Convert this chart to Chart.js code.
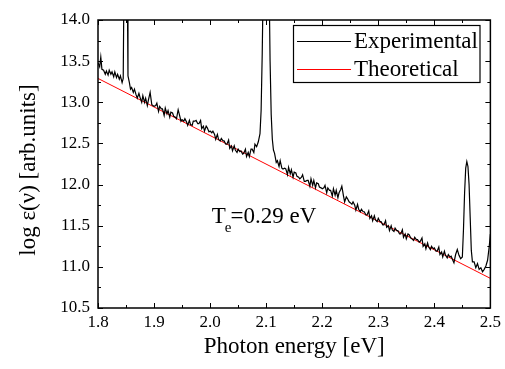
<!DOCTYPE html>
<html>
<head>
<meta charset="utf-8">
<script src="https://cdn.jsdelivr.net/npm/chart.js@4/dist/chart.umd.min.js"></script>
<style>
  html, body { margin: 0; padding: 0; background: #fff; }
  canvas { display: block; }
</style>
</head>
<body>
<canvas id="c" width="505" height="369"></canvas>
<script>
// ---- data ----
const expX = [1.800,1.803,1.805,1.807,1.810,1.813,1.815,1.818,1.820,1.823,1.825,1.828,1.830,1.833,1.835,1.838,1.840,1.843,1.845,1.8465,1.849,1.852,1.8535,1.856,1.858,1.860,1.863,1.865,1.868,1.870,1.873,1.875,1.878,1.880,1.883,1.885,1.888,1.890,1.893,1.896,1.898,1.900,1.903,1.905,1.908,1.910,1.913,1.915,1.918,1.920,1.923,1.925,1.928,1.930,1.933,1.935,1.938,1.940,1.943,1.946,1.948,1.950,1.953,1.955,1.958,1.960,1.963,1.965,1.968,1.970,1.973,1.975,1.978,1.980,1.983,1.985,1.988,1.990,1.993,1.995,1.998,2.000,2.003,2.005,2.008,2.010,2.013,2.015,2.018,2.020,2.023,2.025,2.028,2.030,2.033,2.035,2.038,2.040,2.043,2.045,2.048,2.050,2.053,2.055,2.058,2.060,2.063,2.065,2.068,2.070,2.073,2.075,2.078,2.080,2.083,2.086,2.089,2.091,2.093,2.095,2.098,2.102,2.105,2.107,2.109,2.111,2.113,2.115,2.118,2.120,2.123,2.125,2.128,2.130,2.133,2.135,2.138,2.140,2.143,2.145,2.148,2.150,2.153,2.155,2.158,2.160,2.163,2.165,2.168,2.170,2.173,2.175,2.178,2.180,2.183,2.185,2.188,2.190,2.193,2.195,2.198,2.200,2.203,2.205,2.208,2.210,2.213,2.215,2.218,2.220,2.223,2.225,2.228,2.230,2.233,2.235,2.238,2.240,2.243,2.245,2.248,2.250,2.253,2.255,2.258,2.260,2.263,2.265,2.268,2.270,2.273,2.275,2.278,2.280,2.283,2.285,2.288,2.290,2.293,2.295,2.298,2.300,2.303,2.305,2.308,2.310,2.313,2.315,2.318,2.320,2.323,2.325,2.328,2.330,2.333,2.335,2.338,2.340,2.343,2.345,2.348,2.350,2.353,2.355,2.358,2.360,2.363,2.365,2.368,2.370,2.373,2.375,2.378,2.380,2.383,2.385,2.388,2.390,2.393,2.395,2.398,2.400,2.403,2.405,2.408,2.410,2.413,2.415,2.418,2.420,2.423,2.425,2.428,2.430,2.433,2.435,2.438,2.441,2.444,2.447,2.450,2.452,2.454,2.456,2.458,2.460,2.462,2.464,2.466,2.468,2.471,2.474,2.477,2.480,2.483,2.486,2.489,2.492,2.495,2.498,2.500];
const expY = [13.48,13.43,13.55,13.40,13.39,13.34,13.38,13.33,13.39,13.34,13.37,13.31,13.37,13.30,13.34,13.28,13.32,13.24,13.29,14.6,15.5,14.6,13.32,
13.24,13.16,13.18,13.12,13.16,13.09,13.05,13.11,13.06,13.00,13.08,13.00,13.05,12.96,13.03,13.12,12.97,12.96,12.95,12.96,12.99,12.89,12.95,12.92,12.92,12.84,12.93,12.86,12.90,12.82,12.88,12.87,12.83,12.82,12.80,12.91,12.83,12.77,12.79,12.77,12.80,12.76,12.72,12.78,12.73,12.72,12.77,12.77,12.78,12.74,12.74,12.78,12.68,12.71,12.65,12.71,12.69,12.64,12.65,12.63,12.65,12.61,12.55,12.61,12.55,12.53,12.56,12.53,12.53,12.49,12.49,12.54,12.44,12.47,12.41,12.47,12.42,12.39,12.43,12.40,12.41,12.37,12.38,12.43,12.34,12.39,12.34,12.43,12.43,12.39,12.49,12.46,12.52,12.62,
12.90,13.6,14.6,15.5,15.5,14.6,13.5,12.85,12.55,12.42,
12.38,12.27,12.29,12.22,12.29,12.20,12.19,12.20,12.19,12.12,12.21,12.13,12.18,12.09,12.15,12.14,12.10,12.09,12.07,12.09,12.12,12.04,12.04,12.05,12.05,11.98,12.07,11.99,12.05,11.96,12.02,12.01,11.97,11.96,11.95,11.96,11.99,11.90,11.96,11.93,11.93,11.86,11.95,11.87,11.93,11.84,11.90,11.94,11.98,11.86,
11.79,11.85,11.83,11.79,11.78,11.76,11.79,11.75,11.69,11.76,11.70,11.67,11.70,11.67,11.67,11.63,11.63,11.68,11.59,11.62,11.56,11.62,11.57,11.55,11.59,11.55,11.55,11.51,11.51,11.56,11.48,11.50,11.44,11.50,11.45,11.43,11.47,11.44,11.44,11.40,11.40,11.45,11.36,11.40,11.34,11.40,11.39,11.35,11.34,11.32,11.36,11.33,11.33,11.30,11.31,11.35,11.25,11.28,11.22,11.29,11.24,11.21,11.25,11.22,11.23,11.19,11.19,11.24,11.15,11.18,11.12,11.19,11.14,11.11,11.15,11.12,11.13,11.08,11.05,11.15,11.21,11.14,11.10,
11.12,11.45,11.90,12.20,12.28,12.22,12.00,11.60,11.20,11.06,
11.06,10.99,11.04,10.97,10.99,10.94,10.97,11.01,11.08,11.25,11.40];
const theoX = [1.8, 2.5];
const theoY = [13.29, 10.86];
const seriesNames = ['Experimental', 'Theoretical'];
const xTickRange = [1.8, 2.5, 0.1];
const yTickRange = [10.5, 14.0, 0.5];
const xTitle = 'Photon energy [eV]';
const yTitle = 'log \u03B5(\u03BD) [arb.units]';
const noteMain = 'T';
const noteSub = 'e';
const noteRest = '=0.29 eV';
const notePos = [2.003, 11.53];

const SERIF = "'Liberation Serif', 'Times New Roman', serif";
Chart.defaults.font.family = SERIF;
Chart.defaults.color = '#000';

const expData = expX.map((x, i) => ({x, y: expY[i]}));
const theoData = theoX.map((x, i) => ({x, y: theoY[i]}));

const framePlugin = {
  id: 'frame',
  afterDraw(chart) {
    const {ctx, chartArea: a, scales: {x, y}} = chart;
    ctx.save();
    // frame
    ctx.strokeStyle = '#000';
    ctx.lineWidth = 1.5;
    ctx.strokeRect(a.left, a.top, a.right - a.left, a.bottom - a.top);
    // ticks (inward, all four sides)
    ctx.lineWidth = 1;
    ctx.beginPath();
    const xv = x.ticks.map(t => t.value);
    const yv = y.ticks.map(t => t.value);
    const xMarks = [];
    xv.forEach((v, i) => { xMarks.push([v, 5]); if (i < xv.length - 1) xMarks.push([(v + xv[i + 1]) / 2, 3]); });
    const yMarks = [];
    yv.forEach((v, i) => { yMarks.push([v, 5]); if (i < yv.length - 1) yMarks.push([(v + yv[i + 1]) / 2, 3]); });
    xMarks.forEach(([v, len]) => {
      const px = Math.round(x.getPixelForValue(v)) + 0.5;
      ctx.moveTo(px, a.bottom); ctx.lineTo(px, a.bottom - len);
      ctx.moveTo(px, a.top); ctx.lineTo(px, a.top + len);
    });
    yMarks.forEach(([v, len]) => {
      const py = Math.round(y.getPixelForValue(v)) + 0.5;
      ctx.moveTo(a.left, py); ctx.lineTo(a.left + len, py);
      ctx.moveTo(a.right, py); ctx.lineTo(a.right - len, py);
    });
    ctx.stroke();

    // legend
    const lx = 293.5, ly = 25.5, lw = 186.5, lh = 57;
    ctx.fillStyle = '#fff';
    ctx.fillRect(lx, ly, lw, lh);
    ctx.lineWidth = 1.2;
    ctx.strokeStyle = '#000';
    ctx.strokeRect(lx, ly, lw, lh);
    ctx.font = '23px ' + SERIF;
    ctx.textBaseline = 'alphabetic';
    ctx.textAlign = 'left';
    chart.data.datasets.forEach((ds, i) => {
      const rowY = 41.5 + i * 28;
      ctx.strokeStyle = ds.borderColor;
      ctx.lineWidth = 1;
      ctx.beginPath();
      ctx.moveTo(297, rowY); ctx.lineTo(351, rowY);
      ctx.stroke();
      ctx.fillStyle = '#000';
      ctx.fillText(ds.label, 354, rowY + 6);
    });

    // annotation
    const nx = x.getPixelForValue(notePos[0]);
    const ny = y.getPixelForValue(notePos[1]);
    ctx.fillStyle = '#000';
    ctx.font = '23px ' + SERIF;
    ctx.fillText(noteMain, nx, ny);
    const w1 = ctx.measureText(noteMain).width;
    ctx.font = '15px ' + SERIF;
    ctx.fillText(noteSub, nx + w1 - 1, ny + 9);
    const w2 = ctx.measureText(noteSub).width;
    ctx.font = '23px ' + SERIF;
    ctx.fillText(noteRest, nx + w1 + w2 - 2, ny);

    // y-axis title
    ctx.translate(28.5, 170);
    ctx.rotate(-Math.PI / 2);
    ctx.textAlign = 'center';
    ctx.textBaseline = 'middle';
    ctx.font = '23px ' + SERIF;
    ctx.fillText(yTitle, 0, 0);
    ctx.restore();
  }
};

new Chart(document.getElementById('c'), {
  type: 'scatter',
  data: {
    datasets: [
      { label: seriesNames[0], data: expData, showLine: true, borderColor: '#000000', backgroundColor: '#000000', borderWidth: 1.2, pointRadius: 0, tension: 0 },
      { label: seriesNames[1], data: theoData, showLine: true, borderColor: '#ff0000', backgroundColor: '#ff0000', borderWidth: 1, pointRadius: 0, tension: 0 }
    ]
  },
  options: {
    responsive: false,
    animation: false,
    layout: { padding: { left: 0, right: 14, top: 20, bottom: 0 } },
    plugins: { legend: { display: false }, tooltip: { enabled: false } },
    scales: {
      x: {
        type: 'linear', min: xTickRange[0], max: xTickRange[1],
        grid: { display: false, drawTicks: false, tickLength: 0 }, border: { display: false },
        ticks: { stepSize: xTickRange[2], padding: 4, font: { size: 17 }, color: '#000', maxRotation: 0,
                 callback: v => v.toFixed(1) },
        title: { display: true, text: xTitle, font: { size: 23 }, color: '#000', padding: { top: 0, bottom: 8 } },
        afterFit: s => { s.height = 61; }
      },
      y: {
        type: 'linear', min: yTickRange[0], max: yTickRange[1],
        grid: { display: false, drawTicks: false, tickLength: 0 }, border: { display: false },
        ticks: { stepSize: yTickRange[2], padding: 8, font: { size: 17 }, color: '#000',
                 callback: v => v.toFixed(1) },
        title: { display: false },
        afterFit: s => { s.width = 98; }
      }
    }
  },
  plugins: [framePlugin]
});
</script>
</body>
</html>
